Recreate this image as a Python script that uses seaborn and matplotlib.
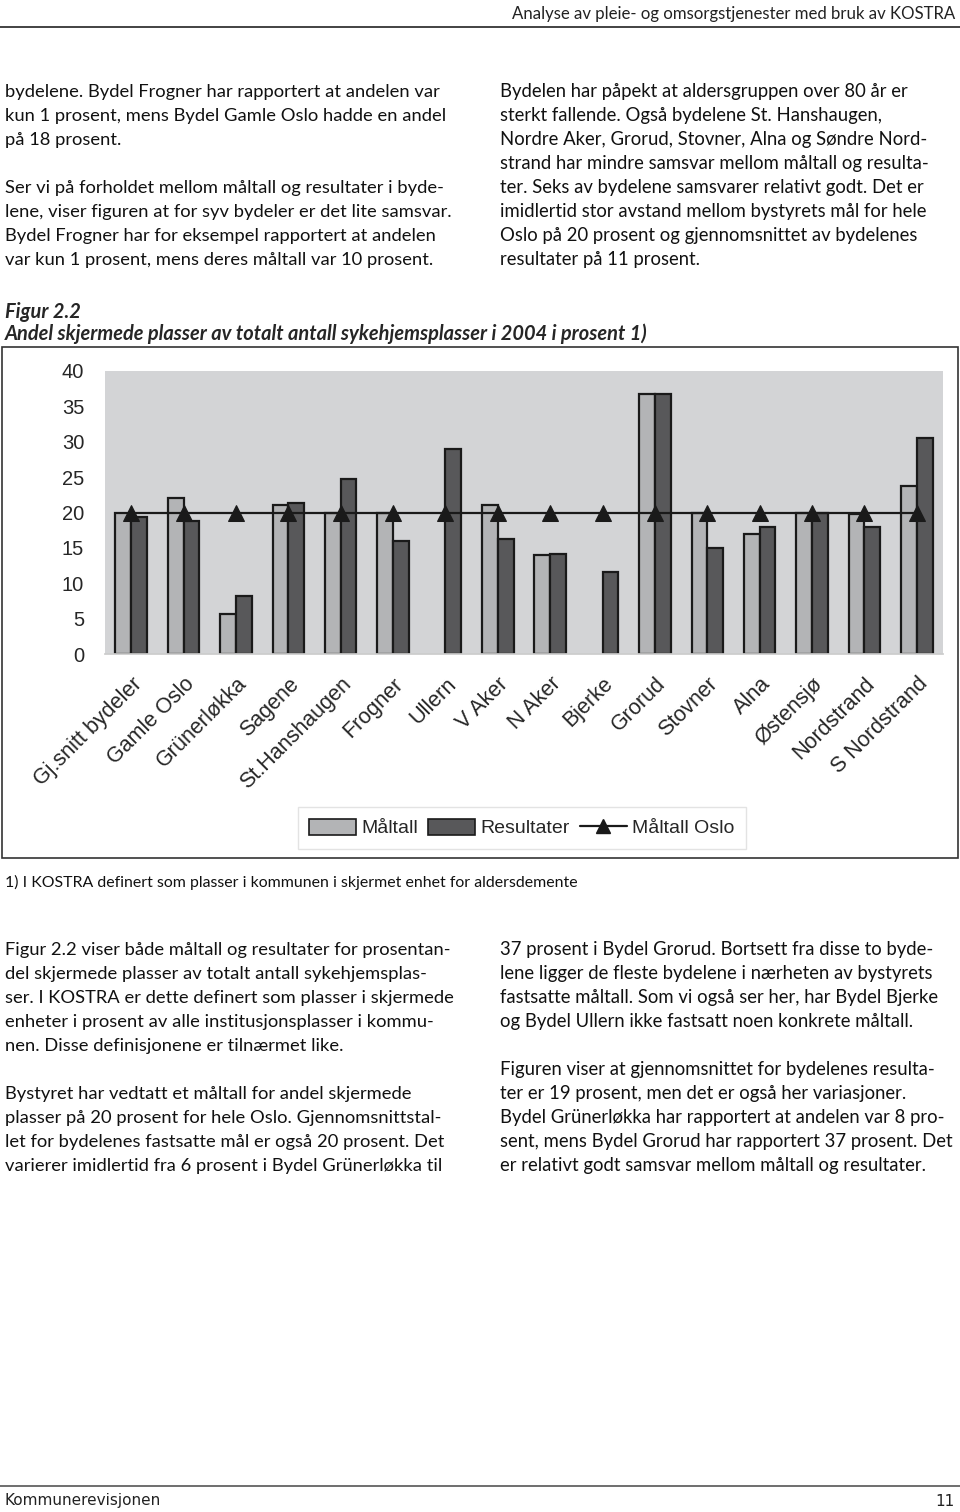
import matplotlib
matplotlib.use("Agg")
import matplotlib.pyplot as plt
import matplotlib.patches as mpatches
from matplotlib.lines import Line2D
import seaborn as sns
import pandas as pd
import numpy as np

# data
bydeler = ['Gj.snitt bydeler', 'Gamle Oslo', 'Grünerløkka', 'Sagene', 'St.Hanshaugen',
           'Frogner', 'Ullern', 'V Aker', 'N Aker', 'Bjerke', 'Grorud', 'Stovner',
           'Alna', 'Østensjø', 'Nordstrand', 'S Nordstrand']
maaltall = [20, 22.1, 5.7, 21, 20, 20, np.nan, 21, 14, np.nan, 36.8, 20, 17, 20, 19.8, 23.7]
resultater = [19.3, 18.8, 8.2, 21.3, 24.7, 16, 29, 16.2, 14.2, 11.6, 36.8, 15, 18, 20, 18, 30.6]
maaltall_oslo = [20] * 16
yticks = [0, 5, 10, 15, 20, 25, 30, 35, 40]

left_col = [
    (92, "bydelene. Bydel Frogner har rapportert at andelen var"),
    (116, "kun 1 prosent, mens Bydel Gamle Oslo hadde en andel"),
    (140, "på 18 prosent."),
    (188, "Ser vi på forholdet mellom måltall og resultater i byde-"),
    (212, "lene, viser figuren at for syv bydeler er det lite samsvar."),
    (236, "Bydel Frogner har for eksempel rapportert at andelen"),
    (260, "var kun 1 prosent, mens deres måltall var 10 prosent."),
    (950, "Figur 2.2 viser både måltall og resultater for prosentan-"),
    (974, "del skjermede plasser av totalt antall sykehjemsplas-"),
    (998, "ser. I KOSTRA er dette definert som plasser i skjermede"),
    (1022, "enheter i prosent av alle institusjonsplasser i kommu-"),
    (1046, "nen. Disse definisjonene er tilnærmet like."),
    (1094, "Bystyret har vedtatt et måltall for andel skjermede"),
    (1118, "plasser på 20 prosent for hele Oslo. Gjennomsnittstal-"),
    (1142, "let for bydelenes fastsatte mål er også 20 prosent. Det"),
    (1166, "varierer imidlertid fra 6 prosent i Bydel Grünerløkka til"),
]
right_col = [
    (92, "Bydelen har påpekt at aldersgruppen over 80 år er"),
    (116, "sterkt fallende. Også bydelene St. Hanshaugen,"),
    (140, "Nordre Aker, Grorud, Stovner, Alna og Søndre Nord-"),
    (164, "strand har mindre samsvar mellom måltall og resulta-"),
    (188, "ter. Seks av bydelene samsvarer relativt godt. Det er"),
    (212, "imidlertid stor avstand mellom bystyrets mål for hele"),
    (236, "Oslo på 20 prosent og gjennomsnittet av bydelenes"),
    (260, "resultater på 11 prosent."),
    (950, "37 prosent i Bydel Grorud. Bortsett fra disse to byde-"),
    (974, "lene ligger de fleste bydelene i nærheten av bystyrets"),
    (998, "fastsatte måltall. Som vi også ser her, har Bydel Bjerke"),
    (1022, "og Bydel Ullern ikke fastsatt noen konkrete måltall."),
    (1070, "Figuren viser at gjennomsnittet for bydelenes resulta-"),
    (1094, "ter er 19 prosent, men det er også her variasjoner."),
    (1118, "Bydel Grünerløkka har rapportert at andelen var 8 pro-"),
    (1142, "sent, mens Bydel Grorud har rapportert 37 prosent. Det"),
    (1166, "er relativt godt samsvar mellom måltall og resultater."),
]

sns.set_theme(style="white")
plt.rcParams['font.family'] = ['Liberation Sans', 'DejaVu Sans']
body_font = ['Lato', 'DejaVu Sans']

W, H = 960, 1512
fig = plt.figure(figsize=(W / 100, H / 100), dpi=100)
renderer = fig.canvas.get_renderer()


def fy(py):
    return 1 - py / H


def fit_texts(texts, right_px):
    # shrink the whole block so that its widest line ends near right_px
    scale = 1.0
    for t, x0 in texts:
        w = t.get_window_extent(renderer).width
        scale = min(scale, (right_px - x0) / w)
    for t, _ in texts:
        t.set_fontsize(t.get_fontsize() * scale)


# page header / footer
hdr = fig.text(955 / W, fy(14), "Analyse av pleie- og omsorgstjenester med bruk av KOSTRA",
               ha='right', va='center', fontsize=14, family=body_font, color='#222222')
fit_texts([(hdr, 510)], 955)
fig.add_artist(Line2D([0, 1], [fy(27), fy(27)], color='#222222', lw=1.2, transform=fig.transFigure))
fig.add_artist(Line2D([0, 1], [fy(1486), fy(1486)], color='#555555', lw=1.2, transform=fig.transFigure))
fig.text(5 / W, fy(1501), "Kommunerevisjonen", ha='left', va='center', fontsize=11,
         family=['DejaVu Sans'], color='#222222')
fig.text(955 / W, fy(1501), "11", ha='right', va='center', fontsize=11,
         family=['DejaVu Sans'], color='#222222')

# body text
blocks = []
for py, line in left_col:
    t = fig.text(5 / W, fy(py), line, ha='left', va='center', fontsize=15,
                 family=body_font, color='#111111')
    blocks.append((t, 5))
fit_texts(blocks, 455)
blocks = []
for py, line in right_col:
    t = fig.text(500 / W, fy(py), line, ha='left', va='center', fontsize=15,
                 family=body_font, color='#111111')
    blocks.append((t, 500))
fit_texts(blocks, 955)

# figure caption
cap1 = fig.text(5 / W, fy(312), "Figur 2.2", ha='left', va='center', fontsize=15,
                family=body_font, weight='bold', style='italic')
cap2 = fig.text(5 / W, fy(334), "Andel skjermede plasser av totalt antall sykehjemsplasser i 2004 i prosent 1)",
                ha='left', va='center', fontsize=15, family=body_font,
                weight='bold', style='italic')
fit_texts([(cap2, 5)], 648)
cap1.set_fontsize(cap2.get_fontsize())
note = fig.text(5 / W, fy(882), "1) I KOSTRA definert som plasser i kommunen i skjermet enhet for aldersdemente",
                ha='left', va='center', fontsize=14, family=body_font, color='#111111')
fit_texts([(note, 5)], 578)

# chart frame
fig.add_artist(mpatches.Rectangle((2 / W, fy(858)), 956 / W, 511 / H, fill=False,
                                  edgecolor='#333333', lw=1.2, transform=fig.transFigure))

ax = fig.add_axes([105 / W, fy(654), 838 / W, 283 / H])
ax.set_facecolor('#d3d4d6')

df = pd.DataFrame({
    'Bydel': bydeler * 2,
    'Serie': ['Måltall'] * len(bydeler) + ['Resultater'] * len(bydeler),
    'Verdi': maaltall + resultater,
}).dropna()

sns.barplot(data=df, x='Bydel', y='Verdi', hue='Serie', order=bydeler,
            hue_order=['Måltall', 'Resultater'], palette=['#b3b4b6', '#58585a'],
            width=0.6, edgecolor='#1a1a1a', linewidth=1.6, saturation=1,
            errorbar=None, legend=False, ax=ax, zorder=2)
sns.lineplot(x=np.arange(len(bydeler)), y=maaltall_oslo, color='#1a1a1a', lw=1.6,
             marker='^', markersize=12, markeredgecolor='#1a1a1a', ax=ax, zorder=3)

ax.set_xlim(-0.5, len(bydeler) - 0.5)
ax.set_ylim(0, 40)
ax.set_yticks(yticks)
ax.set_yticklabels([str(t) for t in yticks], fontsize=14.5)
ax.tick_params(axis='y', length=0, pad=15)
ax.set_xticks(np.arange(len(bydeler)))
ax.set_xticklabels(bydeler, rotation=45, ha='right', va='top', rotation_mode='anchor',
                   fontsize=15.5)
ax.tick_params(axis='x', length=0, pad=14)
ax.set_xlabel('')
ax.set_ylabel('')
for s in ['top', 'right', 'left']:
    ax.spines[s].set_visible(False)
ax.spines['bottom'].set_color('#cccccc')

handles = [
    mpatches.Patch(facecolor='#b3b4b6', edgecolor='#1a1a1a', lw=1.2, label='Måltall'),
    mpatches.Patch(facecolor='#58585a', edgecolor='#1a1a1a', lw=1.2, label='Resultater'),
    Line2D([0], [0], color='#1a1a1a', lw=1.6, marker='^', markersize=10, label='Måltall Oslo'),
]
leg = fig.legend(handles=handles, loc='center', bbox_to_anchor=(522 / W, fy(828)), ncol=3,
                 fontsize=14, frameon=True, fancybox=False, handlelength=2.4,
                 handleheight=0.9, columnspacing=0.5, handletextpad=0.3, borderpad=0.6)
leg.get_frame().set_edgecolor('#dddddd')
leg.get_frame().set_linewidth(1)

fig.savefig('out.png', dpi=100)
